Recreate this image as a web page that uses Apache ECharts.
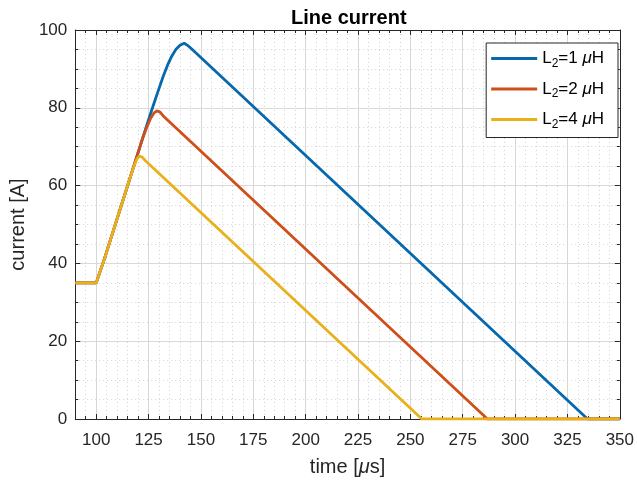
<!DOCTYPE html>
<html>
<head>
<meta charset="utf-8">
<script src="https://cdn.jsdelivr.net/npm/echarts@6/dist/echarts.min.js"></script>
<style>
  html, body { margin: 0; padding: 0; background: #fff; }
  #main { width: 637px; height: 482px; }
</style>
</head>
<body>
<div id="main"></div>
<script>
// values (time in us, current in A)
const names = ['L2=1 uH', 'L2=2 uH', 'L2=4 uH'];
const legendLabels = ['L{sub|2}=1 {i|\u03bc}H', 'L{sub|2}=2 {i|\u03bc}H', 'L{sub|2}=4 {i|\u03bc}H'];
const colors = ['#0668AD', '#CF4F1A', '#EAB01C'];

const t1 = [90, 100, 104, 110, 116, 122, 124, 126, 128, 130, 132, 134, 136, 138, 140, 142, 144, 146, 334.6, 350];
const i1 = [35, 35, 41.3, 51.5, 61.7, 71.9, 75.3, 78.6, 81.8, 85, 88.1, 90.9, 93.2, 95, 96.1, 96.6, 95.9, 94.9, 0, 0];

const t2 = [90, 100, 104, 110, 116, 122, 124, 126, 127.5, 129, 130.5, 132, 286.8, 350];
const i2 = [35, 35, 41.3, 51.5, 61.7, 71.9, 74.8, 77.3, 78.6, 79.2, 78.9, 77.9, 0, 0];

const t3 = [90, 100, 104, 110, 116, 118, 119.5, 120.7, 122, 123.5, 255.5, 350];
const i3 = [35, 35, 41.3, 51.5, 61.7, 65, 66.9, 67.6, 67.3, 66.4, 0, 0];

const xMajor = [100, 125, 150, 175, 200, 225, 250, 275, 300, 325, 350];

const chart = echarts.init(document.getElementById('main'));
const font = 'Liberation Sans';
const ink = '#262626';

function pairs(t, v) {
    return t.map((x, k) => [x, v[k]]);
}

const tickStyle = { color: ink, width: 1 };
const minorGrid = { color: '#d2d2d2', type: [1, 3], width: 1 };

option = {
    backgroundColor: '#fff',
    textStyle: { fontFamily: font },
    title: {
        text: 'Line current',
        left: 286,
        top: 3,
        textStyle: { fontSize: 20, fontWeight: 'bold', color: '#000', fontFamily: font }
    },
    grid: { left: 68, right: 16, top: 30, bottom: 63, containLabel: false },
    legend: {
        data: names,
        orient: 'vertical',
        right: 19,
        top: 43,
        icon: 'rect',
        itemWidth: 46,
        itemHeight: 3,
        itemGap: 11,
        padding: [7, 14, 7, 5],
        backgroundColor: '#fff',
        borderColor: ink,
        borderWidth: 1,
        borderRadius: 0,
        formatter: function (name) {
            return legendLabels[names.indexOf(name)];
        },
        textStyle: {
            fontSize: 17,
            color: '#000',
            fontFamily: font,
            rich: {
                sub: { fontSize: 12, color: '#000', fontFamily: font, padding: [10, 0, 0, 0] },
                i: { fontSize: 17, color: '#000', fontFamily: font, fontStyle: 'italic' }
            }
        }
    },
    xAxis: [{
        type: 'value',
        position: 'bottom',
        min: 90,
        max: 350,
        minInterval: 25,
        maxInterval: 25,
        axisLine: { show: true, lineStyle: tickStyle },
        axisTick: { show: true, inside: true, length: 5, lineStyle: tickStyle },
        axisLabel: {
            fontSize: 17,
            color: ink,
            margin: 13,
            fontFamily: font,
            formatter: function (v) { return xMajor.indexOf(v) >= 0 ? String(v) : ''; }
        },
        splitLine: { show: true, lineStyle: { color: '#d9d9d9', width: 1 } },
        name: 'time [{i|\u03bc}s]',
        nameLocation: 'middle',
        nameGap: 38,
        nameTextStyle: {
            fontSize: 20, color: ink, fontFamily: font,
            rich: { i: { fontSize: 20, color: ink, fontFamily: font, fontStyle: 'italic' } }
        }
    }, {
        type: 'value',
        position: 'bottom',
        min: 90,
        max: 350,
        interval: 5,
        axisLine: { show: false },
        axisTick: { show: true, inside: true, length: 3, lineStyle: tickStyle },
        axisLabel: { show: false },
        splitLine: { show: true, lineStyle: minorGrid }
    }, {
        type: 'value',
        position: 'top',
        min: 90,
        max: 350,
        minInterval: 25,
        maxInterval: 25,
        axisLine: { show: true, lineStyle: tickStyle },
        axisTick: { show: true, inside: true, length: 5, lineStyle: tickStyle },
        axisLabel: { show: false },
        splitLine: { show: false }
    }, {
        type: 'value',
        position: 'top',
        min: 90,
        max: 350,
        interval: 5,
        axisLine: { show: false },
        axisTick: { show: true, inside: true, length: 3, lineStyle: tickStyle },
        axisLabel: { show: false },
        splitLine: { show: false }
    }],
    yAxis: [{
        type: 'value',
        position: 'left',
        min: 0,
        max: 100,
        interval: 20,
        axisLine: { show: true, lineStyle: tickStyle },
        axisTick: { show: true, inside: true, length: 5, lineStyle: tickStyle },
        minorTick: { show: true, splitNumber: 4, length: 3, lineStyle: tickStyle },
        axisLabel: { fontSize: 17, color: ink, margin: 8, fontFamily: font },
        splitLine: { show: true, lineStyle: { color: '#d9d9d9', width: 1 } },
        minorSplitLine: { show: true, lineStyle: minorGrid },
        name: 'current [A]',
        nameLocation: 'middle',
        nameGap: 43,
        nameTextStyle: { fontSize: 20, color: ink, fontFamily: font }
    }, {
        type: 'value',
        position: 'right',
        min: 0,
        max: 100,
        interval: 20,
        axisLine: { show: true, lineStyle: tickStyle },
        axisTick: { show: true, inside: true, length: 5, lineStyle: tickStyle },
        minorTick: { show: true, splitNumber: 4, length: 3, lineStyle: tickStyle },
        axisLabel: { show: false },
        splitLine: { show: false }
    }],
    series: [
        { name: names[0], data: pairs(t1, i1) },
        { name: names[1], data: pairs(t2, i2) },
        { name: names[2], data: pairs(t3, i3) }
    ].map((s, k) => ({
        name: s.name,
        type: 'line',
        xAxisIndex: 0,
        yAxisIndex: 0,
        data: s.data,
        showSymbol: false,
        symbol: 'none',
        smooth: false,
        color: colors[k],
        z: 3 + k,
        lineStyle: { color: colors[k], width: 2.8 },
        animation: false
    })),
    animation: false
};

chart.setOption(option);
</script>
</body>
</html>
